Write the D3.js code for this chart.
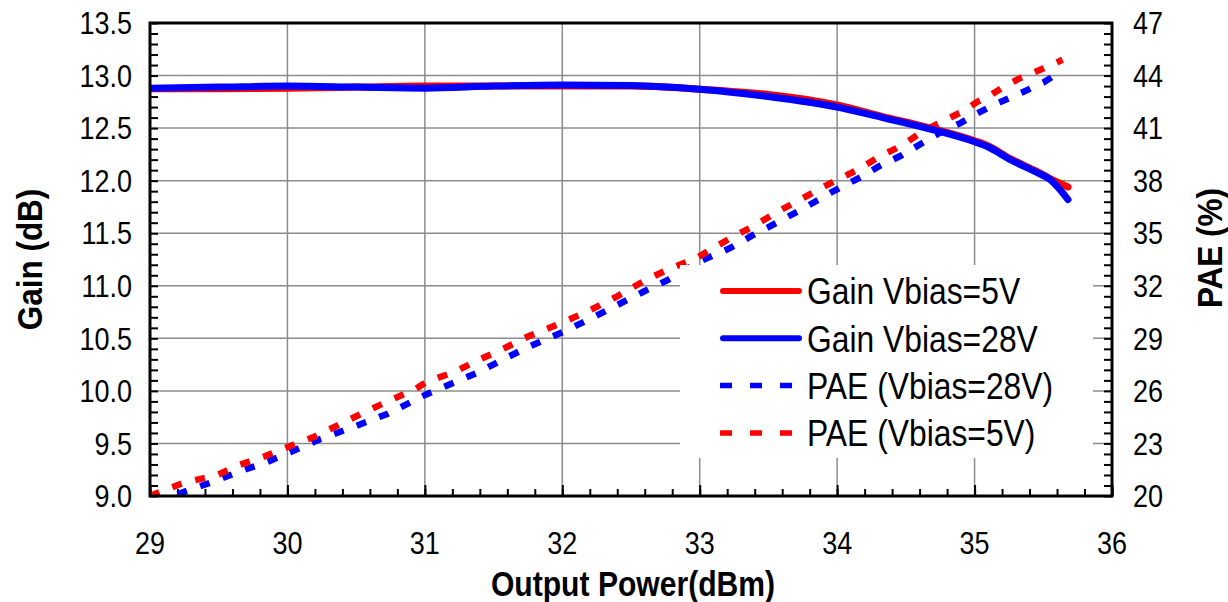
<!DOCTYPE html>
<html>
<head>
<meta charset="utf-8">
<script src="https://cdn.jsdelivr.net/npm/d3@7"></script>
<style>
  body { margin: 0; background: #fff; }
  text { font-family: Arial, "Liberation Sans", sans-serif; fill: #000; }
</style>
</head>
<body>
<script>
// gain curves, output power (dBm) vs gain (dB)
var gainX  = [29, 29.5, 30, 30.5, 31, 31.5, 32, 32.5, 33, 33.5, 34, 34.33, 34.65, 35.0, 35.1, 35.26, 35.45, 35.55, 35.68]
var gain5  = [12.875, 12.875, 12.88, 12.89, 12.9, 12.9, 12.9, 12.9, 12.87, 12.82, 12.72, 12.61, 12.51, 12.38, 12.33, 12.21, 12.09, 12.02, 11.94]
var gain28 = [12.88, 12.89, 12.9, 12.89, 12.88, 12.9, 12.91, 12.905, 12.87, 12.8, 12.7, 12.6, 12.5, 12.37, 12.32, 12.2, 12.08, 12.01, 11.82]

// PAE curves (%)
var paeX5 = [29, 29.24, 29.49, 29.65, 29.84, 30.02, 30.2, 30.37, 30.54, 30.73, 30.93, 31.01, 31.22, 31.4, 31.57, 31.75, 32.0, 32.2, 32.4, 32.6, 32.76, 32.98, 33.22, 33.39, 33.56, 33.75, 33.95, 34.17, 34.3, 34.47, 34.62, 34.76, 34.9, 35.02, 35.11, 35.21, 35.33, 35.5, 35.64]
var pae5  = [20, 20.74, 21.2, 21.77, 22.28, 22.85, 23.4, 24.05, 24.7, 25.4, 26.1, 26.5, 27.1, 27.8, 28.4, 29.1, 29.9, 30.6, 31.4, 32.3, 32.9, 33.6, 34.7, 35.4, 36.2, 37.0, 37.85, 38.7, 39.35, 40.0, 40.8, 41.35, 41.9, 42.5, 42.85, 43.35, 43.85, 44.4, 44.9]
var paeX28 = [29.2, 29.49, 29.65, 29.84, 30.02, 30.24, 30.5, 30.73, 30.91, 31.01, 31.22, 31.4, 31.57, 31.75, 32.0, 32.2, 32.4, 32.6, 32.76, 32.99, 33.22, 33.39, 33.56, 33.75, 33.95, 34.17, 34.3, 34.47, 34.62, 34.76, 34.9, 35.02, 35.16, 35.35, 35.5, 35.64]
var pae28  = [20.1, 20.9, 21.4, 21.9, 22.5, 23.25, 24.0, 24.7, 25.4, 25.8, 26.5, 27.1, 27.8, 28.5, 29.35, 30.1, 30.9, 31.7, 32.3, 33.35, 34.15, 34.9, 35.6, 36.4, 37.3, 38.2, 38.8, 39.45, 40.15, 40.8, 41.3, 41.85, 42.4, 43.05, 43.6, 44.3]

var xTicks = [29, 30, 31, 32, 33, 34, 35, 36]
var yLTicks = [9, 9.5, 10, 10.5, 11, 11.5, 12, 12.5, 13, 13.5]
var yRTicks = [20, 23, 26, 29, 32, 35, 38, 41, 44, 47]

var legendItems = [
  {label: 'Gain Vbias=5V', color: '#ff0000', dash: null},
  {label: 'Gain Vbias=28V', color: '#0000ff', dash: null},
  {label: 'PAE (Vbias=28V)', color: '#0000ff', dash: '12,18'},
  {label: 'PAE (Vbias=5V)', color: '#ff0000', dash: '12,18'}
]

var W = 1228, H = 602
var L = 150, R = 1112, T = 23, B = 496

var svg = d3.select('body').append('svg').attr('width', W).attr('height', H)

var x = d3.scaleLinear().domain([29, 36]).range([L, R])
var yL = d3.scaleLinear().domain([9, 13.5]).range([B, T])
var yR = d3.scaleLinear().domain([20, 47]).range([B, T])

// condensed looking text
function label(g, px, py, str, size, sx, anchor, weight, rot) {
  return g.append('text')
    .attr('transform', 'translate(' + px + ',' + py + ')' + (rot ? ' rotate(' + rot + ')' : '') + ' scale(' + sx + ',1)')
    .attr('text-anchor', anchor)
    .attr('dy', '0.36em')
    .style('font-size', size + 'px')
    .style('font-weight', weight || 'normal')
    .text(str)
}

// grid
var grid = svg.append('g').attr('stroke', '#8c8c8c').attr('stroke-width', 1.5)
xTicks.slice(1, -1).forEach(function(d){
  grid.append('line').attr('x1', x(d)).attr('x2', x(d)).attr('y1', T).attr('y2', B)
})
yLTicks.slice(1, -1).forEach(function(d){
  grid.append('line').attr('x1', L).attr('x2', R).attr('y1', yL(d)).attr('y2', yL(d))
})

// minor + major ticks, pointing inward
function range(a, b, s) { return d3.range(Math.round((b - a) / s) + 1).map(function(i){ return a + i * s }) }

var xMinor = svg.append('g').attr('transform', 'translate(0,' + B + ')')
  .call(d3.axisBottom(x).tickValues(range(29, 36, 0.2)).tickSize(-7).tickFormat(''))
var xMajor = svg.append('g').attr('transform', 'translate(0,' + B + ')')
  .call(d3.axisBottom(x).tickValues(xTicks).tickSize(-11).tickFormat(''))
var yMinor = svg.append('g').attr('transform', 'translate(' + L + ',0)')
  .call(d3.axisLeft(yL).tickValues(range(9, 13.5, 0.1)).tickSize(-8).tickFormat(''))
var yrMinor = svg.append('g').attr('transform', 'translate(' + R + ',0)')
  .call(d3.axisRight(yR).tickValues(range(20, 47, 0.6)).tickSize(-8).tickFormat(''))
;[xMinor, xMajor, yMinor, yrMinor].forEach(function(g){
  g.select('.domain').remove()
  g.selectAll('line').attr('stroke', '#000').attr('stroke-width', 2)
})

// tick labels
xTicks.forEach(function(d){ label(svg, x(d), 543, d, 31, 0.87, 'middle') })
yLTicks.forEach(function(d){ label(svg, 132, yL(d), d3.format('.1f')(d), 31, 0.87, 'end') })
yRTicks.forEach(function(d){ label(svg, 1133, yR(d), d, 31, 0.87, 'start') })

// axis titles
label(svg, 29, (T + B) / 2, 'Gain (dB)', 35, 0.9, 'middle', 'bold', -90)
label(svg, 1209, 248, 'PAE (%)', 35, 0.9, 'middle', 'bold', -90)
label(svg, (L + R) / 2 + 2, 583, 'Output Power(dBm)', 35, 0.86, 'middle', 'bold')

// series
var plot = svg.append('g')
plot.append('clipPath').attr('id', 'clip').append('rect')
  .attr('x', L).attr('y', T).attr('width', R - L).attr('height', B - T)

function zip(xs, ys) { return xs.map(function(d, i){ return [d, ys[i]] }) }

var gainLine = d3.line().x(function(d){ return x(d[0]) }).y(function(d){ return yL(d[1]) }).curve(d3.curveMonotoneX)
var paeLine = d3.line().x(function(d){ return x(d[0]) }).y(function(d){ return yR(d[1]) })

var series = plot.append('g').attr('clip-path', 'url(#clip)').attr('fill', 'none')
series.append('path').datum(zip(paeX28, pae28)).attr('d', paeLine)
  .attr('stroke', '#0000ff').attr('stroke-width', 6.5).attr('stroke-dasharray', '10,14')
series.append('path').datum(zip(paeX5, pae5)).attr('d', paeLine)
  .attr('stroke', '#ff0000').attr('stroke-width', 6.5).attr('stroke-dasharray', '10,14')
series.append('path').datum(zip(gainX, gain5)).attr('d', gainLine)
  .attr('stroke', '#ff0000').attr('stroke-width', 7).attr('stroke-linecap', 'round')
series.append('path').datum(zip(gainX, gain28)).attr('d', gainLine)
  .attr('stroke', '#0000ff').attr('stroke-width', 7).attr('stroke-linecap', 'round')

// legend
var leg = svg.append('g')
leg.append('rect').attr('x', 680).attr('y', 265).attr('width', 413).attr('height', 193).attr('fill', '#fff')
legendItems.forEach(function(d, i){
  var cy = 291 + i * 47.3
  leg.append('line').attr('x1', d.dash ? 720 : 723).attr('x2', 799).attr('y1', cy).attr('y2', cy)
    .attr('stroke', d.color).attr('stroke-width', d.dash ? 5.5 : 6)
    .attr('stroke-linecap', d.dash ? 'butt' : 'round')
    .attr('stroke-dasharray', d.dash)
  label(leg, 807, cy, d.label, 37, 0.86, 'start')
})

// frame
svg.append('rect').attr('x', L).attr('y', T).attr('width', R - L).attr('height', B - T)
  .attr('fill', 'none').attr('stroke', '#000').attr('stroke-width', 3)
</script>
</body>
</html>
